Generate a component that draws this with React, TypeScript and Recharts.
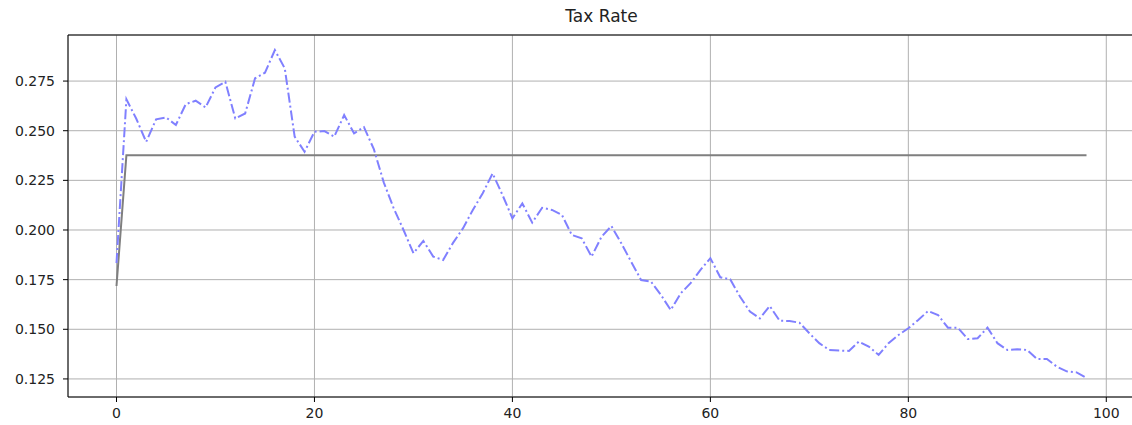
import { LineChart, Line, XAxis, YAxis, CartesianGrid } from "recharts";

// tax rate per period (blue dash-dot)
const RATE = [
  0.1834, 0.2658, 0.256, 0.2444, 0.2557, 0.2567, 0.2529, 0.2634, 0.2651, 0.2617,
  0.2718, 0.2746, 0.2562, 0.2587, 0.2764, 0.2792, 0.2906, 0.2814, 0.247, 0.2394,
  0.2495, 0.2498, 0.247, 0.2579, 0.2487, 0.2518, 0.2407, 0.224, 0.211, 0.2,
  0.1883, 0.1945, 0.1866, 0.1849, 0.1935, 0.2008, 0.2101, 0.2185, 0.2285, 0.2176,
  0.2059, 0.2134, 0.2037, 0.2112, 0.2101, 0.2076, 0.1975, 0.1958, 0.1866, 0.1966,
  0.202, 0.1933, 0.184, 0.1748, 0.174, 0.1673, 0.1597, 0.1681, 0.1732, 0.1799,
  0.1858, 0.1762, 0.1752, 0.1664, 0.1589, 0.1555, 0.1617, 0.1543, 0.1542, 0.1533,
  0.148, 0.143, 0.1396, 0.1393, 0.1391, 0.1438, 0.1413, 0.1371, 0.143, 0.1471,
  0.1505, 0.1547, 0.1592, 0.1572, 0.1508, 0.1508, 0.1451, 0.1455, 0.1508, 0.143,
  0.1396, 0.1399, 0.1396, 0.135, 0.135, 0.1312, 0.1288, 0.1283, 0.1255,
];

// reference rate (grey, flat after the first step)
const REF_X = [0, 1, 98];
const REF_Y = [0.1718, 0.2377, 0.2377];

const X_TICKS = [0, 20, 40, 60, 80, 100];
const Y_TICKS = [0.125, 0.15, 0.175, 0.2, 0.225, 0.25, 0.275];

const rateData = RATE.map((v, i) => ({ t: i, rate: v }));
const refData = REF_X.map((t, i) => ({ t, ref: REF_Y[i] }));

const FONT = "'DejaVu Sans', sans-serif";
const tick = { fontSize: 14, fill: "#222", fontFamily: FONT };

export default function App() {
  return (
    <div style={{ position: "relative", width: 1132, height: 425, overflow: "hidden", background: "#fff" }}>
      <style>{`body{margin:0}`}</style>
      <div
        style={{
          position: "absolute",
          left: 68,
          width: 1067,
          top: 6,
          textAlign: "center",
          fontFamily: FONT,
          fontSize: 17,
          color: "#222",
        }}
      >
        Tax Rate
      </div>
      <LineChart width={1150} height={425} margin={{ top: 34, right: 15, bottom: 0, left: 0 }}>
        <CartesianGrid stroke="#b0b0b0" strokeWidth={1} />
        <XAxis
          dataKey="t"
          type="number"
          domain={[-4.9, 102.9]}
          ticks={X_TICKS}
          allowDataOverflow
          height={28}
          tickSize={5}
          tickMargin={6}
          tick={tick}
          stroke="#000"
          tickLine={{ stroke: "#000" }}
        />
        <XAxis
          xAxisId="top"
          orientation="top"
          type="number"
          domain={[-4.9, 102.9]}
          height={1}
          tick={false}
          tickLine={false}
          axisLine={{ stroke: "#000", strokeWidth: 1 }}
        />
        <YAxis
          type="number"
          domain={[0.1159, 0.2982]}
          ticks={Y_TICKS}
          allowDataOverflow
          width={68}
          tickSize={5}
          tickMargin={8}
          tick={tick}
          tickFormatter={(v: number) => v.toFixed(3)}
          stroke="#000"
          tickLine={{ stroke: "#000" }}
        />
        <Line
          data={refData}
          dataKey="ref"
          type="linear"
          stroke="#7f7f7f"
          strokeWidth={2}
          dot={false}
          isAnimationActive={false}
        />
        <Line
          data={rateData}
          dataKey="rate"
          type="linear"
          stroke="#8080ff"
          strokeWidth={2}
          strokeDasharray="10 3 2 3"
          dot={false}
          isAnimationActive={false}
        />
      </LineChart>
    </div>
  );
}
